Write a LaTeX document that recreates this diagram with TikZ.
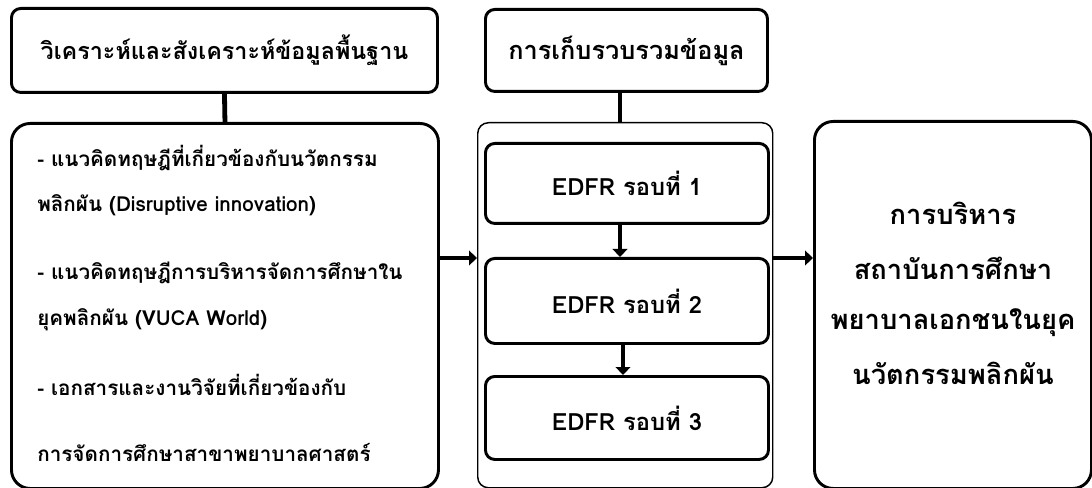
\documentclass[tikz,border=0pt]{standalone}
\usepackage{fontspec}
\setmainfont[Script=Thai]{Loma}
\usetikzlibrary{arrows.meta}
\tikzset{
  tbox/.style={draw, line width=2.2pt, rounded corners=7pt, anchor=north west, inner sep=0pt},
  bbox/.style={draw, line width=2.2pt, rounded corners=14pt, anchor=north west, inner sep=0pt},
  thinbox/.style={draw, line width=1.1pt, rounded corners=8pt, anchor=north west, inner sep=0pt},
  conn/.style={line width=3.6pt},
  arr/.style={line width=3.6pt, -{Triangle[length=6pt,width=11pt]}},
  ttl/.style={font=\bfseries\fontsize{17.5}{19}\selectfont},
  ttlb/.style={font=\bfseries\fontsize{19}{21}\selectfont},
  body/.style={font=\bfseries\fontsize{15.5}{17}\selectfont, anchor=west, inner sep=0pt},
  edfr/.style={font=\bfseries\fontsize{17.8}{19}\selectfont},
  rtxt/.style={font=\bfseries\fontsize{20.5}{22}\selectfont, inner sep=0pt},
}
\begin{document}
\begin{tikzpicture}[x=0.75pt,y=-0.75pt]
\useasboundingbox (0,0) rectangle (1092,488);
% boxes
\node[tbox, minimum width=319.5pt, minimum height=63pt] (A) at (10,7) {};
\node[ttl] (At) at (A.center) {วิเคราะห์และสังเคราะห์ข้อมูลพื้นฐาน};
\node[bbox, minimum width=320.25pt, minimum height=273.75pt] (B) at (10,122) {};
\node[tbox, minimum width=211.5pt, minimum height=61.5pt] (C) at (484,8) {};
\node[ttlb] (Ct) at (C.center) {การเก็บรวบรวมข้อมูล};
\node[thinbox, minimum width=221.25pt, minimum height=273.75pt] (D) at (477,122) {};
\node[tbox, minimum width=212.25pt, minimum height=60pt] (E1) at (484,142) {};
\node[tbox, minimum width=212.25pt, minimum height=63.75pt] (E2) at (484,257) {};
\node[tbox, minimum width=212.25pt, minimum height=62.25pt] (E3) at (484,375) {};
\node[edfr] (E1t) at (E1.center) {EDFR รอบที่ 1};
\node[edfr] (E2t) at (E2.center) {EDFR รอบที่ 2};
\node[edfr] (E3t) at (E3.center) {EDFR รอบที่ 3};
\node[bbox, minimum width=207.75pt, minimum height=275.25pt] (F) at (813,120) {};
% left body text
\node[body] (b1) at (37,158) {- แนวคิดทฤษฎีที่เกี่ยวข้องกับนวัตกรรม};
\node[body] (b2) at (37,205) {พลิกผัน (Disruptive innovation)};
\node[body] (b3) at (37,273) {- แนวคิดทฤษฎีการบริหารจัดการศึกษาใน};
\node[body] (b4) at (37,320) {ยุคพลิกผัน (VUCA World)};
\node[body] (b5) at (37,385) {- เอกสารและงานวิจัยที่เกี่ยวข้องกับ};
\node[body] (b6) at (37,452) {การจัดการศึกษาสาขาพยาบาลศาสตร์};
% right text
\node[rtxt] (r1) at (953,213) {การบริหาร};
\node[rtxt] (r2) at (953,268) {สถาบันการศึกษา};
\node[rtxt] (r3) at (953,323) {พยาบาลเอกชนในยุค};
\node[rtxt] (r4) at (953,373) {นวัตกรรมพลิกผัน};
% connectors
\coordinate (ly) at (0,258);
\coordinate (a1) at (620,0);
\coordinate (a2) at (623,0);
\draw[conn] (A.south) -- (B.north);
\draw[conn] (C.south -| a1) -- (D.north -| a1);
\draw[arr] (E1.south -| a1) -- (E2.north -| a1);
\draw[arr] (E2.south -| a2) -- (E3.north -| a2);
\draw[arr] (B.east |- ly) -- (D.west |- ly);
\draw[arr] (D.east |- ly) -- (F.west |- ly);
\end{tikzpicture}
\end{document}
